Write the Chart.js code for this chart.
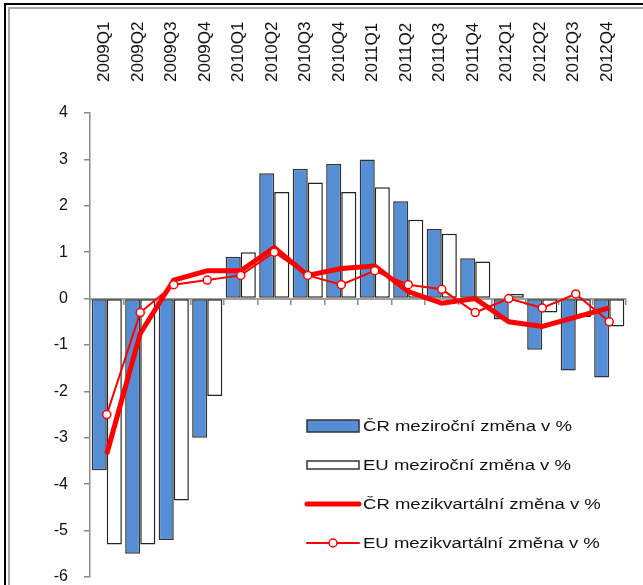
<!DOCTYPE html>
<html>
<head>
<meta charset="utf-8">
<script src="https://cdn.jsdelivr.net/npm/chart.js@4"></script>
<style>
  body { margin: 0; background: #fff; }
  #wrap { position: relative; width: 643px; height: 585px; overflow: hidden; }
  .frameOut { position: absolute; left: 4px; top: 3px; right: -10px; bottom: -10px;
              border-left: 2px solid #000; border-top: 2px solid #000; }
  .frameIn { position: absolute; left: 8px; top: 7px; right: -10px; bottom: -10px;
             border-left: 2px solid #a6a6a6; border-top: 2px solid #a6a6a6; }
  canvas { position: absolute; left: 0; top: 0; }
</style>
</head>
<body>
<div id="wrap">
  <div class="frameOut"></div>
  <div class="frameIn"></div>
  <canvas id="graf" width="643" height="585"></canvas>
</div>
<script>
// kvartaly
const quarters = ['2009Q1', '2009Q2', '2009Q3', '2009Q4', '2010Q1', '2010Q2', '2010Q3', '2010Q4',
                  '2011Q1', '2011Q2', '2011Q3', '2011Q4', '2012Q1', '2012Q2', '2012Q3', '2012Q4'];

// mezirocni zmena v %
const crYoY = [-3.7, -5.5, -5.2, -3.0, 0.9, 2.7, 2.8, 2.9, 3.0, 2.1, 1.5, 0.87, -0.45, -1.1, -1.55, -1.7];
const euYoY = [-5.3, -5.3, -4.35, -2.1, 1.0, 2.3, 2.5, 2.3, 2.4, 1.7, 1.4, 0.8, 0.1, -0.3, -0.4, -0.6];

// mezikvartalni zmena v %
const crQoQ = [-3.35, -0.75, 0.4, 0.6, 0.6, 1.1, 0.5, 0.65, 0.7, 0.15, -0.1, 0.0, -0.5, -0.6, -0.4, -0.2];
const euQoQ = [-2.5, -0.3, 0.3, 0.4, 0.5, 1.0, 0.5, 0.3, 0.6, 0.3, 0.2, -0.3, 0.0, -0.2, 0.1, -0.5];

const yTicks = { min: -6, max: 4, step: 1 };

const names = ['ČR meziroční změna v %', 'EU meziroční změna v %',
               'ČR mezikvartální změna v %', 'EU mezikvartální změna v %'];

const FONT = '"Liberation Sans", Arial, sans-serif';
const blue = '#558ed5';
const red = '#ff0000';

// legenda uvnitr grafu (vpravo dole)
const legendInside = {
    id: 'legendInside',
    afterDraw(chart) {
        const ctx = chart.ctx;
        const ds = chart.data.datasets;
        const x0 = 307, x1 = 359, tx = 363;
        const rows = [426, 465, 504, 543];
        ctx.save();
        ctx.font = '14px ' + FONT;
        const sx = 209 / ctx.measureText(names[0]).width;

        // bar swatches
        ctx.fillStyle = ds[0].backgroundColor;
        ctx.strokeStyle = '#333';
        ctx.lineWidth = 1.5;
        ctx.fillRect(x0, rows[0] - 6, x1 - x0, 12);
        ctx.strokeRect(x0, rows[0] - 6, x1 - x0, 12);
        ctx.fillStyle = '#fff';
        ctx.fillRect(x0, rows[1] - 4, x1 - x0, 8);
        ctx.strokeRect(x0, rows[1] - 4, x1 - x0, 8);

        // lines
        ctx.strokeStyle = red;
        ctx.lineCap = 'round';
        ctx.lineWidth = 5;
        ctx.beginPath(); ctx.moveTo(x0, rows[2]); ctx.lineTo(x1, rows[2]); ctx.stroke();
        ctx.lineWidth = 2;
        ctx.beginPath(); ctx.moveTo(x0, rows[3]); ctx.lineTo(x1, rows[3]); ctx.stroke();
        ctx.fillStyle = '#fff';
        ctx.lineWidth = 1.5;
        ctx.beginPath(); ctx.arc((x0 + x1) / 2, rows[3], 4, 0, Math.PI * 2); ctx.fill(); ctx.stroke();

        // texts
        ctx.fillStyle = '#111';
        ctx.textBaseline = 'middle';
        ds.forEach(function (d, i) {
            ctx.save();
            ctx.translate(tx, rows[i] + 1);
            ctx.scale(sx, 1);
            ctx.fillText(d.label, 0, 0);
            ctx.restore();
        });
        ctx.restore();
    }
};

new Chart(document.getElementById('graf'), {
    type: 'bar',
    data: {
        labels: quarters,
        datasets: [{
            label: names[0],
            data: crYoY,
            backgroundColor: blue,
            borderColor: '#333',
            borderWidth: 1.5,
            borderSkipped: false,
            order: 2
        }, {
            label: names[1],
            data: euYoY,
            backgroundColor: '#fff',
            borderColor: '#222',
            borderWidth: 1.5,
            borderSkipped: false,
            order: 3
        }, {
            type: 'line',
            label: names[2],
            data: crQoQ,
            borderColor: red,
            borderWidth: 5,
            pointRadius: 0,
            tension: 0,
            fill: false,
            order: 1
        }, {
            type: 'line',
            label: names[3],
            data: euQoQ,
            borderColor: red,
            borderWidth: 2,
            pointRadius: 4,
            pointBorderWidth: 1.5,
            pointBackgroundColor: '#fff',
            pointBorderColor: red,
            tension: 0,
            fill: false,
            order: 0
        }]
    },
    options: {
        responsive: false,
        animation: false,
        devicePixelRatio: 1,
        layout: { padding: { left: 0, right: 17, top: 0, bottom: 8 } },
        plugins: { legend: { display: false }, tooltip: { enabled: false } },
        datasets: { bar: { categoryPercentage: 0.9, barPercentage: 1 } },
        scales: {
            x: {
                position: 'top',
                grid: { display: false },
                border: { display: false },
                ticks: {
                    minRotation: 90, maxRotation: 90, padding: 23, labelOffset: 18,
                    color: '#111', font: { family: FONT, size: 17 }
                },
                afterFit(scale) { scale.height = 113; }
            },
            x2: {
                type: 'category',
                position: { y: 0 },
                offset: true,
                z: 1,
                grid: { drawOnChartArea: false, offset: true, tickLength: 5, color: '#8c8c8c', lineWidth: 1.5 },
                border: { color: '#a0a0a0', width: 2 },
                ticks: { display: false },
                afterFit(scale) { scale.height = 0; }
            },
            y: {
                min: yTicks.min,
                max: yTicks.max,
                grid: { drawOnChartArea: false, tickLength: 6, color: '#8c8c8c', lineWidth: 1.5 },
                border: { color: '#8c8c8c', width: 1.5 },
                ticks: { stepSize: yTicks.step, padding: 16, color: '#111', font: { family: FONT, size: 16 } },
                afterFit(scale) {
                    scale.width = 90;
                    scale.paddingTop = 0;
                    scale.paddingBottom = 0;
                }
            }
        }
    },
    plugins: [legendInside]
});
</script>
</body>
</html>
